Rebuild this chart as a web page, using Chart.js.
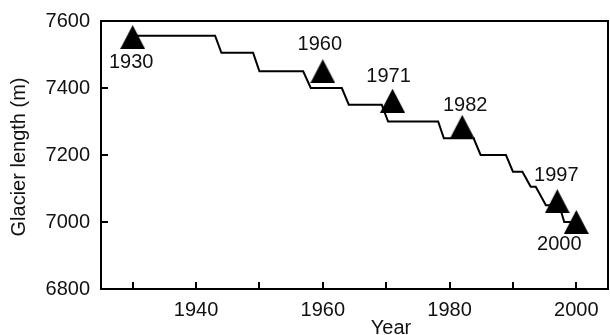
<!DOCTYPE html>
<html>
<head>
<meta charset="utf-8">
<script src="https://cdn.jsdelivr.net/npm/chart.js@4.4.1/dist/chart.umd.min.js"></script>
<style>
  body { margin: 0; background: #fff; }
  #chart { display: block; }
</style>
</head>
<body>
<canvas id="chart" width="610" height="335"></canvas>
<script>
// stepped length curve (drops are slightly slanted in the original)
var stepYears = [1930, 1943, 1944, 1949, 1950, 1956.9, 1958.1, 1963, 1964.1, 1969.3, 1970.3,
                 1978.2, 1979.1, 1983.8, 1984.9, 1988.9, 1990, 1991.5, 1992.8, 1993.6, 1995.2,
                 1997.3, 1998.1, 2000];
var stepLengths = [7556, 7556, 7505, 7505, 7450, 7450, 7400, 7400, 7350, 7350, 7300,
                   7300, 7250, 7250, 7200, 7200, 7150, 7150, 7105, 7105, 7050,
                   7050, 7000, 7000];

// observed positions (triangles)
var markerYears = [1930, 1960, 1971, 1982, 1997, 2000];
var markerLengths = [7552, 7450, 7362, 7284, 7062, 7000];

var xTicks = [1930, 1940, 1950, 1960, 1970, 1980, 1990, 2000];
var xLabelTicks = [1940, 1960, 1980, 2000];
var yTicks = [6800, 7000, 7200, 7400, 7600];

var textColor = '#111';
var fontFamily = '"Liberation Sans", Arial, sans-serif';

// triangle marker image
var tri = document.createElement('canvas');
tri.width = 25;
tri.height = 24;
var tctx = tri.getContext('2d');
tctx.fillStyle = '#000';
tctx.beginPath();
tctx.moveTo(12.5, 0);
tctx.lineTo(25, 24);
tctx.lineTo(0, 24);
tctx.closePath();
tctx.fill();

var stepPoints = [];
for (var i = 0; i < stepYears.length; i++) {
  stepPoints.push({ x: stepYears[i], y: stepLengths[i] });
}
var markerPoints = [];
for (var j = 0; j < markerYears.length; j++) {
  markerPoints.push({ x: markerYears[j], y: markerLengths[j] });
}

// frame, inward ticks, axis titles and year labels
var decorPlugin = {
  id: 'decor',
  afterDraw: function(chart, args, opts) {
    var ctx = chart.ctx;
    var area = chart.chartArea;
    var xs = chart.scales.x;
    var ys = chart.scales.y;
    ctx.save();
    ctx.strokeStyle = '#000';
    ctx.lineWidth = 2;
    ctx.strokeRect(area.left, area.top, area.right - area.left, area.bottom - area.top);

    ctx.beginPath();
    xTicks.forEach(function(v) {
      var px = Math.round(xs.getPixelForValue(v));
      ctx.moveTo(px, area.bottom);
      ctx.lineTo(px, area.bottom - 7);
    });
    yTicks.forEach(function(v) {
      var py = Math.round(ys.getPixelForValue(v));
      ctx.moveTo(area.left, py);
      ctx.lineTo(area.left + 7, py);
    });
    ctx.stroke();

    ctx.fillStyle = textColor;
    ctx.font = '20px ' + fontFamily;
    ctx.textAlign = 'center';
    ctx.textBaseline = 'middle';
    markerYears.forEach(function(yr, k) {
      var px = xs.getPixelForValue(yr);
      var py = ys.getPixelForValue(markerLengths[k]);
      var off = opts.labelOffsets[k];
      ctx.fillText(String(yr), px + off[0], py + off[1]);
    });

    ctx.fillText('Year', 391, 328);

    ctx.translate(19, 157);
    ctx.rotate(-Math.PI / 2);
    ctx.fillText('Glacier length (m)', 0, 0);
    ctx.restore();
  }
};

new Chart(document.getElementById('chart'), {
  type: 'line',
  data: {
    datasets: [{
      data: stepPoints,
      borderColor: '#000',
      borderWidth: 2,
      pointRadius: 0,
      tension: 0,
      fill: false
    }, {
      data: markerPoints,
      showLine: false,
      pointStyle: tri,
      pointRadius: 12,
      pointBackgroundColor: '#000',
      pointBorderColor: '#000'
    }]
  },
  options: {
    responsive: false,
    animation: false,
    events: [],
    layout: { autoPadding: false, padding: { left: 0, top: 21, right: 2, bottom: 0 } },
    plugins: {
      legend: { display: false },
      tooltip: { enabled: false },
      decor: {
        labelOffsets: [[-1.5, 25], [-3, -27], [-4, -24], [3, -21], [-1, -26], [-17, 22.5]]
      }
    },
    scales: {
      x: {
        type: 'linear',
        min: 1925,
        max: 2005,
        afterBuildTicks: function(scale) {
          scale.ticks = xLabelTicks.map(function(v) { return { value: v }; });
        },
        afterFit: function(scale) {
          scale.height = 46;
          scale.paddingLeft = 0;
          scale.paddingRight = 0;
        },
        grid: { drawOnChartArea: false, drawTicks: false },
        border: { display: false },
        ticks: {
          color: textColor,
          padding: 9,
          font: { size: 20, family: fontFamily },
          maxRotation: 0,
          callback: function(v) { return String(v); }
        }
      },
      y: {
        min: 6800,
        max: 7600,
        afterBuildTicks: function(scale) {
          scale.ticks = yTicks.map(function(v) { return { value: v }; });
        },
        afterFit: function(scale) {
          scale.width = 101;
          scale.paddingTop = 0;
          scale.paddingBottom = 0;
        },
        grid: { drawOnChartArea: false, drawTicks: false },
        border: { display: false },
        ticks: {
          color: textColor,
          padding: 11,
          font: { size: 20, family: fontFamily },
          callback: function(v) { return String(v); }
        }
      }
    }
  },
  plugins: [decorPlugin]
});
</script>
</body>
</html>
